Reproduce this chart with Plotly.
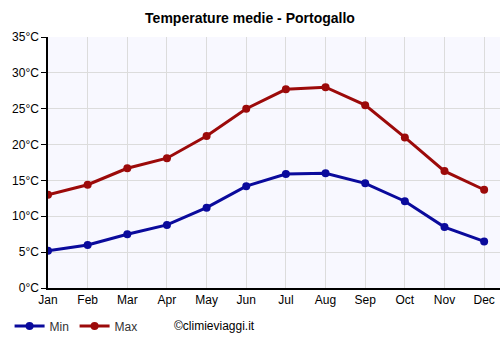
import plotly.graph_objects as go

months = ["Jan", "Feb", "Mar", "Apr", "May", "Jun", "Jul", "Aug", "Sep", "Oct", "Nov", "Dec"]
t_min = [5.2, 6.0, 7.5, 8.8, 11.2, 14.2, 15.9, 16.0, 14.6, 12.1, 8.5, 6.5]
t_max = [13.0, 14.4, 16.7, 18.1, 21.2, 25.0, 27.7, 28.0, 25.5, 21.0, 16.3, 13.7]
y_ticks = [0, 5, 10, 15, 20, 25, 30, 35]
y_labels = [f"{v}°C" for v in y_ticks]

fig = go.Figure()
fig.add_trace(go.Scatter(x=list(range(12)), y=t_min, name="Min", mode="lines+markers",
                         line=dict(color="#0a0a9c", width=3), marker=dict(size=8)))
fig.add_trace(go.Scatter(x=list(range(12)), y=t_max, name="Max", mode="lines+markers",
                         line=dict(color="#9c0a0a", width=3), marker=dict(size=8)))

fig.update_layout(
    width=500, height=350,
    margin=dict(l=48, r=0, t=37, b=62),
    paper_bgcolor="white", plot_bgcolor="#f8f8ff",
    font=dict(family="Liberation Sans, Arial", size=12, color="#000"),
    title=dict(text="<b>Temperature medie - Portogallo</b>", x=0.5, xanchor="center",
               y=0.948, yanchor="middle", font=dict(size=14)),
    showlegend=True,
    legend=dict(orientation="h", x=-0.085, y=-0.151, xanchor="left", yanchor="middle",
                font=dict(size=12, color="#333"), entrywidth=20, entrywidthmode="pixels",
                bgcolor="rgba(0,0,0,0)"),
    xaxis=dict(tickmode="array", tickvals=list(range(12)), ticktext=months,
               range=[0, 11.4], showgrid=True, gridcolor="#dcdcdc", zeroline=False,
               showline=True, linecolor="black", linewidth=2, ticks="", ticklen=0,
               tickfont=dict(size=12)),
    yaxis=dict(tickmode="array", tickvals=y_ticks, ticktext=y_labels,
               range=[0, 35], showgrid=True, gridcolor="#dcdcdc", zeroline=False,
               showline=True, linecolor="black", linewidth=1.5, ticks="outside",
               ticklen=5, tickcolor="black", tickfont=dict(size=12)),
    annotations=[dict(text="©climieviaggi.it", xref="paper", yref="paper",
                      x=0.274, y=-0.151, xanchor="left", yanchor="middle",
                      showarrow=False, font=dict(size=12, color="#000"))],
)

fig.write_html("out.html")
